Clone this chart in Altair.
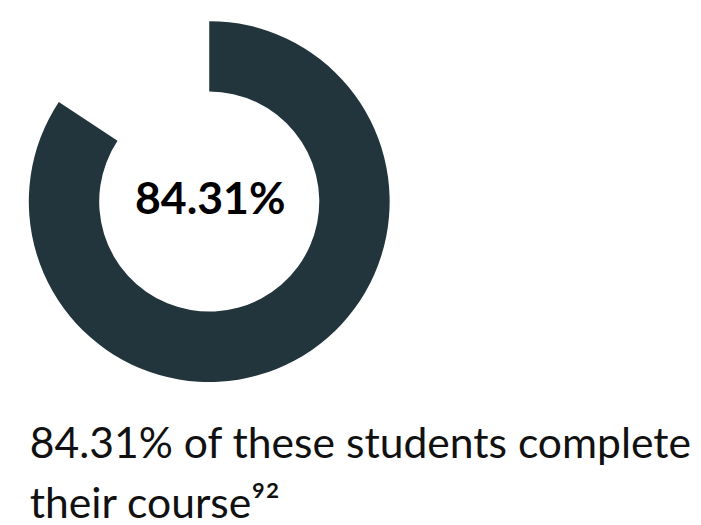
import altair as alt
import pandas as pd

categories = ["complete", "not complete"]
values = [84.31, 15.69]
center_label = ["84.31%"]
caption_lines = ["84.31% of these students complete", "their course⁹²"]

donut_df = pd.DataFrame({"category": categories, "value": values, "order": [0, 1]})
center_df = pd.DataFrame({"label": center_label})
caption_df = pd.DataFrame({"line": caption_lines, "row": [0, 1]})

CX, CY = 203, 193

donut = alt.Chart(donut_df).mark_arc(outerRadius=182, innerRadius=111).encode(
    theta=alt.Theta("value:Q", stack=True),
    order=alt.Order("order:Q"),
    color=alt.Color(
        "category:N",
        scale=alt.Scale(domain=categories, range=["#22343c", "rgba(0,0,0,0)"]),
        legend=None,
    ),
    x=alt.value(CX),
    y=alt.value(CY),
)

center = alt.Chart(center_df).mark_text(
    font="Lato", fontWeight="bold", fontSize=45, color="#000000",
    align="center", baseline="alphabetic",
).encode(text="label:N", x=alt.value(CX + 1), y=alt.value(206))

caption_base = alt.Chart(caption_df).mark_text(
    font="Lato", fontSize=43, color="#111111",
    align="left", baseline="alphabetic",
)
caption1 = caption_base.transform_filter("datum.row == 0").encode(
    text="line:N", x=alt.value(22), y=alt.value(452)
)
caption2 = caption_base.transform_filter("datum.row == 1").encode(
    text="line:N", x=alt.value(22), y=alt.value(512)
)

chart = alt.layer(donut, center, caption1, caption2).properties(
    width=685, height=517, padding=0, background="white"
).configure_view(stroke=None)

chart.save("out.html", embed_options={"renderer": "svg", "actions": False})
